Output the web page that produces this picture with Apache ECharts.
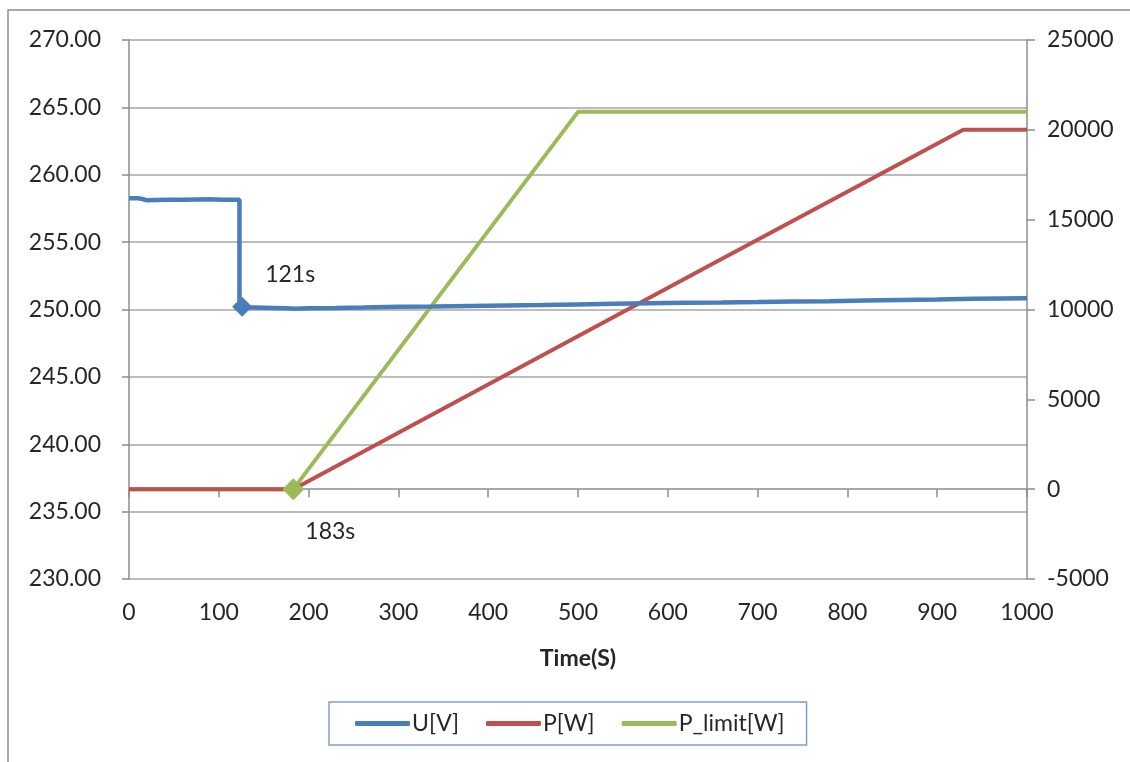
<!DOCTYPE html>
<html><head><meta charset="utf-8">
<script src="https://cdn.jsdelivr.net/npm/echarts@6/dist/echarts.min.js"></script>
<style>html,body{margin:0;padding:0;background:#fff}#c{width:1130px;height:762px}</style>
</head><body><div id="c"></div>
<script>
const timeU = [0,10,15,20,30,45,60,75,90,105,118,123,123,126,140,160,175,185,200,230,260,300,340,380,420,460,500,540,580,620,660,700,740,780,820,860,900,940,970,1000];
const voltageU = [258.25,258.25,258.2,258.1,258.12,258.15,258.14,258.16,258.18,258.15,258.15,258.15,250.2,250.15,250.14,250.12,250.1,250.05,250.1,250.12,250.15,250.2,250.22,250.26,250.3,250.33,250.38,250.42,250.46,250.5,250.52,250.55,250.6,250.62,250.66,250.7,250.74,250.8,250.82,250.84];
const timeP = [0,183,650,929,1000];
const powerP = [0,0,12550,20000,20000];
const timeLimit = [0,183,500,1000];
const powerLimit = [0,0,21000,21000];
const xTicks = {min:0,max:1000,interval:100};
const leftTicks = {min:230,max:270,interval:5};
const rightTicks = {min:-5000,max:25000,interval:5000};
const notes = [{name:'121s', t:126, v:250.2},{name:'183s', t:183, v:0}];

const zip = (a,b)=>a.map((x,i)=>[x,b[i]]);
const FONT = 'Lato';
const TXT = '#262626';
const AX = '#8c8c8c';
const FS = 23;
const chart = echarts.init(document.getElementById('c'));
chart.setOption({
  animation:false,
  textStyle:{fontFamily:FONT},
  graphic:[{type:'rect',shape:{x:8,y:10,width:1200,height:800},style:{fill:'none',stroke:'#8c8c8c',lineWidth:1.5},silent:true}],
  grid:{left:129,right:103,top:40,bottom:183},
  legend:{
    left:329, top:702, width:493,
    data:['U[V]','P[W]','P_limit[W]'],
    icon:'roundRect', itemWidth:55, itemHeight:5, itemGap:27,
    borderColor:'#7f9fcf', borderWidth:1.5, borderRadius:0,
    padding:[10,22,10,26],
    textStyle:{fontFamily:FONT,fontSize:FS,color:TXT,padding:[0,0,0,-3]}
  },
  xAxis:{type:'value',min:xTicks.min,max:xTicks.max,interval:xTicks.interval,
    name:'Time(S)',nameLocation:'middle',nameGap:68,
    nameTextStyle:{fontFamily:FONT,fontSize:23,fontWeight:'bold',color:TXT},
    axisLine:{lineStyle:{color:AX,width:1.5}},
    axisTick:{show:true,length:8,lineStyle:{color:AX,width:1.5}},
    axisLabel:{fontFamily:FONT,fontSize:FS,color:TXT,margin:22,formatter:v=>String(v)},
    splitLine:{show:false}},
  yAxis:[
    {type:'value',min:leftTicks.min,max:leftTicks.max,interval:leftTicks.interval,
     axisLine:{show:true,lineStyle:{color:AX,width:1.5}},
     axisTick:{show:true,inside:false,length:7,lineStyle:{color:AX,width:1.5}},
     axisLabel:{fontFamily:FONT,fontSize:FS,color:TXT,margin:28,formatter:v=>v.toFixed(2)},
     splitLine:{show:true,lineStyle:{color:'#a6a6a6',width:1.5}}},
    {type:'value',min:rightTicks.min,max:rightTicks.max,interval:rightTicks.interval,position:'right',
     axisLine:{show:true,lineStyle:{color:AX,width:1.5}},
     axisTick:{show:true,inside:false,length:8,lineStyle:{color:AX,width:1.5}},
     axisLabel:{fontFamily:FONT,fontSize:FS,color:TXT,margin:20,formatter:v=>String(v)},
     splitLine:{show:false}}
  ],
  series:[
    {name:'U[V]',type:'line',yAxisIndex:0,data:zip(timeU,voltageU),symbol:'none',
     lineStyle:{color:'#4a7ebb',width:4.5},itemStyle:{color:'#4a7ebb'},z:4,
     markPoint:{symbol:'diamond',symbolSize:20,itemStyle:{color:'#4a7ebb'},
       data:[{name:notes[0].name,coord:[notes[0].t,notes[0].v]}],
       label:{show:true,formatter:'{b}',offset:[48,-32],fontFamily:FONT,fontSize:FS,color:TXT}}},
    {name:'P[W]',type:'line',yAxisIndex:1,data:zip(timeP,powerP),symbol:'none',
     lineStyle:{color:'#c0504d',width:4},itemStyle:{color:'#c0504d'},z:3},
    {name:'P_limit[W]',type:'line',yAxisIndex:1,data:zip(timeLimit,powerLimit),symbol:'none',
     lineStyle:{color:'#9bbb59',width:4},itemStyle:{color:'#9bbb59'},z:2,
     markPoint:{symbol:'diamond',symbolSize:22,itemStyle:{color:'#9bbb59'},
       data:[{name:notes[1].name,coord:[notes[1].t,notes[1].v]}],
       label:{show:true,formatter:'{b}',offset:[37,42],fontFamily:FONT,fontSize:FS,color:TXT}}}
  ]
});
</script></body></html>
